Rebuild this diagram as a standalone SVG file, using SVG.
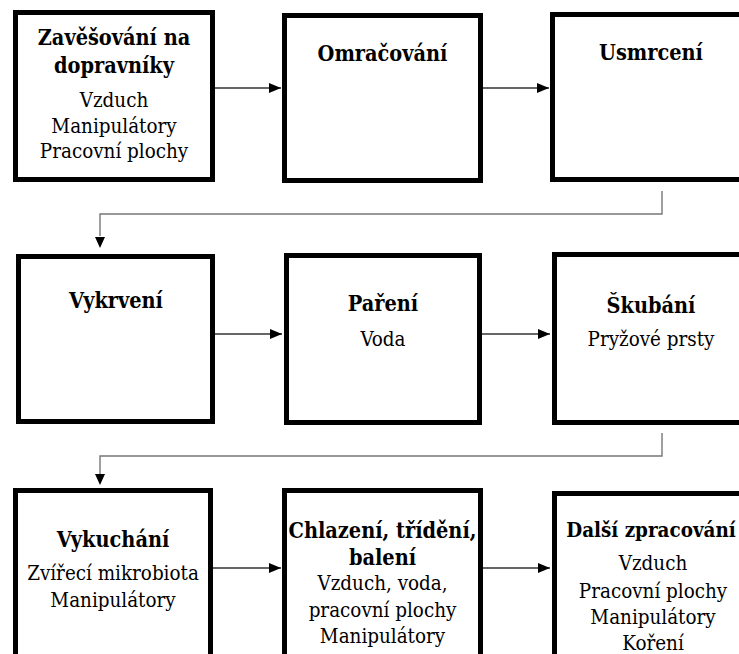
<svg xmlns="http://www.w3.org/2000/svg" width="739" height="654" viewBox="0 0 739 654">
<style>
.box{fill:#fff;stroke:#000;stroke-width:5}
text{font-family:'DejaVu Serif Condensed','DejaVu Serif',serif;font-stretch:condensed;fill:#000;text-anchor:middle}
.b{font-weight:bold;font-size:21.5px}
.r{font-size:20.4px}
.c{fill:none;stroke:#333;stroke-width:1.5}
.e{fill:none;stroke:#777;stroke-width:1.4}
</style>
<defs>
<marker id="ah" viewBox="0 0 12 10" refX="12" refY="5" markerWidth="12" markerHeight="10" markerUnits="userSpaceOnUse" orient="auto">
<path d="M0,0 L12,5 L0,10 Z" fill="#000"/>
</marker>
</defs>
<rect width="739" height="654" fill="#fff"/>
<g id="connectors">
<path class="c" d="M215 88 H281" marker-end="url(#ah)"/>
<path class="c" d="M483 88 H549" marker-end="url(#ah)"/>
<path class="e" d="M662 191 V214 H100 V236"/>
<path d="M95 237 L105 237 L100 248 Z" fill="#000"/>
<path class="c" d="M215 334 H282" marker-end="url(#ah)"/>
<path class="c" d="M482 334 H550" marker-end="url(#ah)"/>
<path class="e" d="M662 433 V456 H100 V474"/>
<path d="M95 474 L105 474 L100 485 Z" fill="#000"/>
<path class="c" d="M213 568 H281" marker-end="url(#ah)"/>
<path class="c" d="M483 568 H550" marker-end="url(#ah)"/>
</g>
<g id="n1">
<rect class="box" x="15.5" y="12.5" width="197" height="167"/>
<text class="b" x="114" y="45">Zavěšování na</text>
<text class="b" x="114" y="73">dopravníky</text>
<text class="r" x="114" y="107">Vzduch</text>
<text class="r" x="114" y="133">Manipulátory</text>
<text class="r" x="114" y="158">Pracovní plochy</text>
</g>
<g id="n2">
<rect class="box" x="284.5" y="15.5" width="196" height="165"/>
<text class="b" x="382.5" y="61">Omračování</text>
</g>
<g id="n3">
<rect class="box" x="552.5" y="14.5" width="198" height="165"/>
<text class="b" x="651" y="60">Usmrcení</text>
</g>
<g id="n4">
<rect class="box" x="18.5" y="256.5" width="194" height="165"/>
<text class="b" x="116" y="308">Vykrvení</text>
</g>
<g id="n5">
<rect class="box" x="286.5" y="255.5" width="193" height="167"/>
<text class="b" x="383" y="311">Paření</text>
<text class="r" x="383" y="346">Voda</text>
</g>
<g id="n6">
<rect class="box" x="554.5" y="254.5" width="198" height="168"/>
<text class="b" x="651" y="313">Škubání</text>
<text class="r" x="651" y="346">Pryžové prsty</text>
</g>
<g id="n7">
<rect class="box" x="15.5" y="490.5" width="195" height="200"/>
<text class="b" x="113" y="547">Vykuchání</text>
<text class="r" x="113" y="580">Zvířecí mikrobiota</text>
<text class="r" x="113" y="607">Manipulátory</text>
</g>
<g id="n8">
<rect class="box" x="284.5" y="490.5" width="196" height="200"/>
<text class="b" x="382.5" y="538">Chlazení, třídění,</text>
<text class="b" x="382.5" y="565">balení</text>
<text class="r" x="382.5" y="590">Vzduch, voda,</text>
<text class="r" x="382.5" y="617">pracovní plochy</text>
<text class="r" x="382.5" y="643">Manipulátory</text>
</g>
<g id="n9">
<rect class="box" x="554.5" y="493.5" width="198" height="200"/>
<text class="b" x="651" y="537" style="font-size:20.4px">Další zpracování</text>
<text class="r" x="653" y="570">Vzduch</text>
<text class="r" x="653" y="598">Pracovní plochy</text>
<text class="r" x="653" y="624">Manipulátory</text>
<text class="r" x="653" y="650">Koření</text>
</g>
</svg>
